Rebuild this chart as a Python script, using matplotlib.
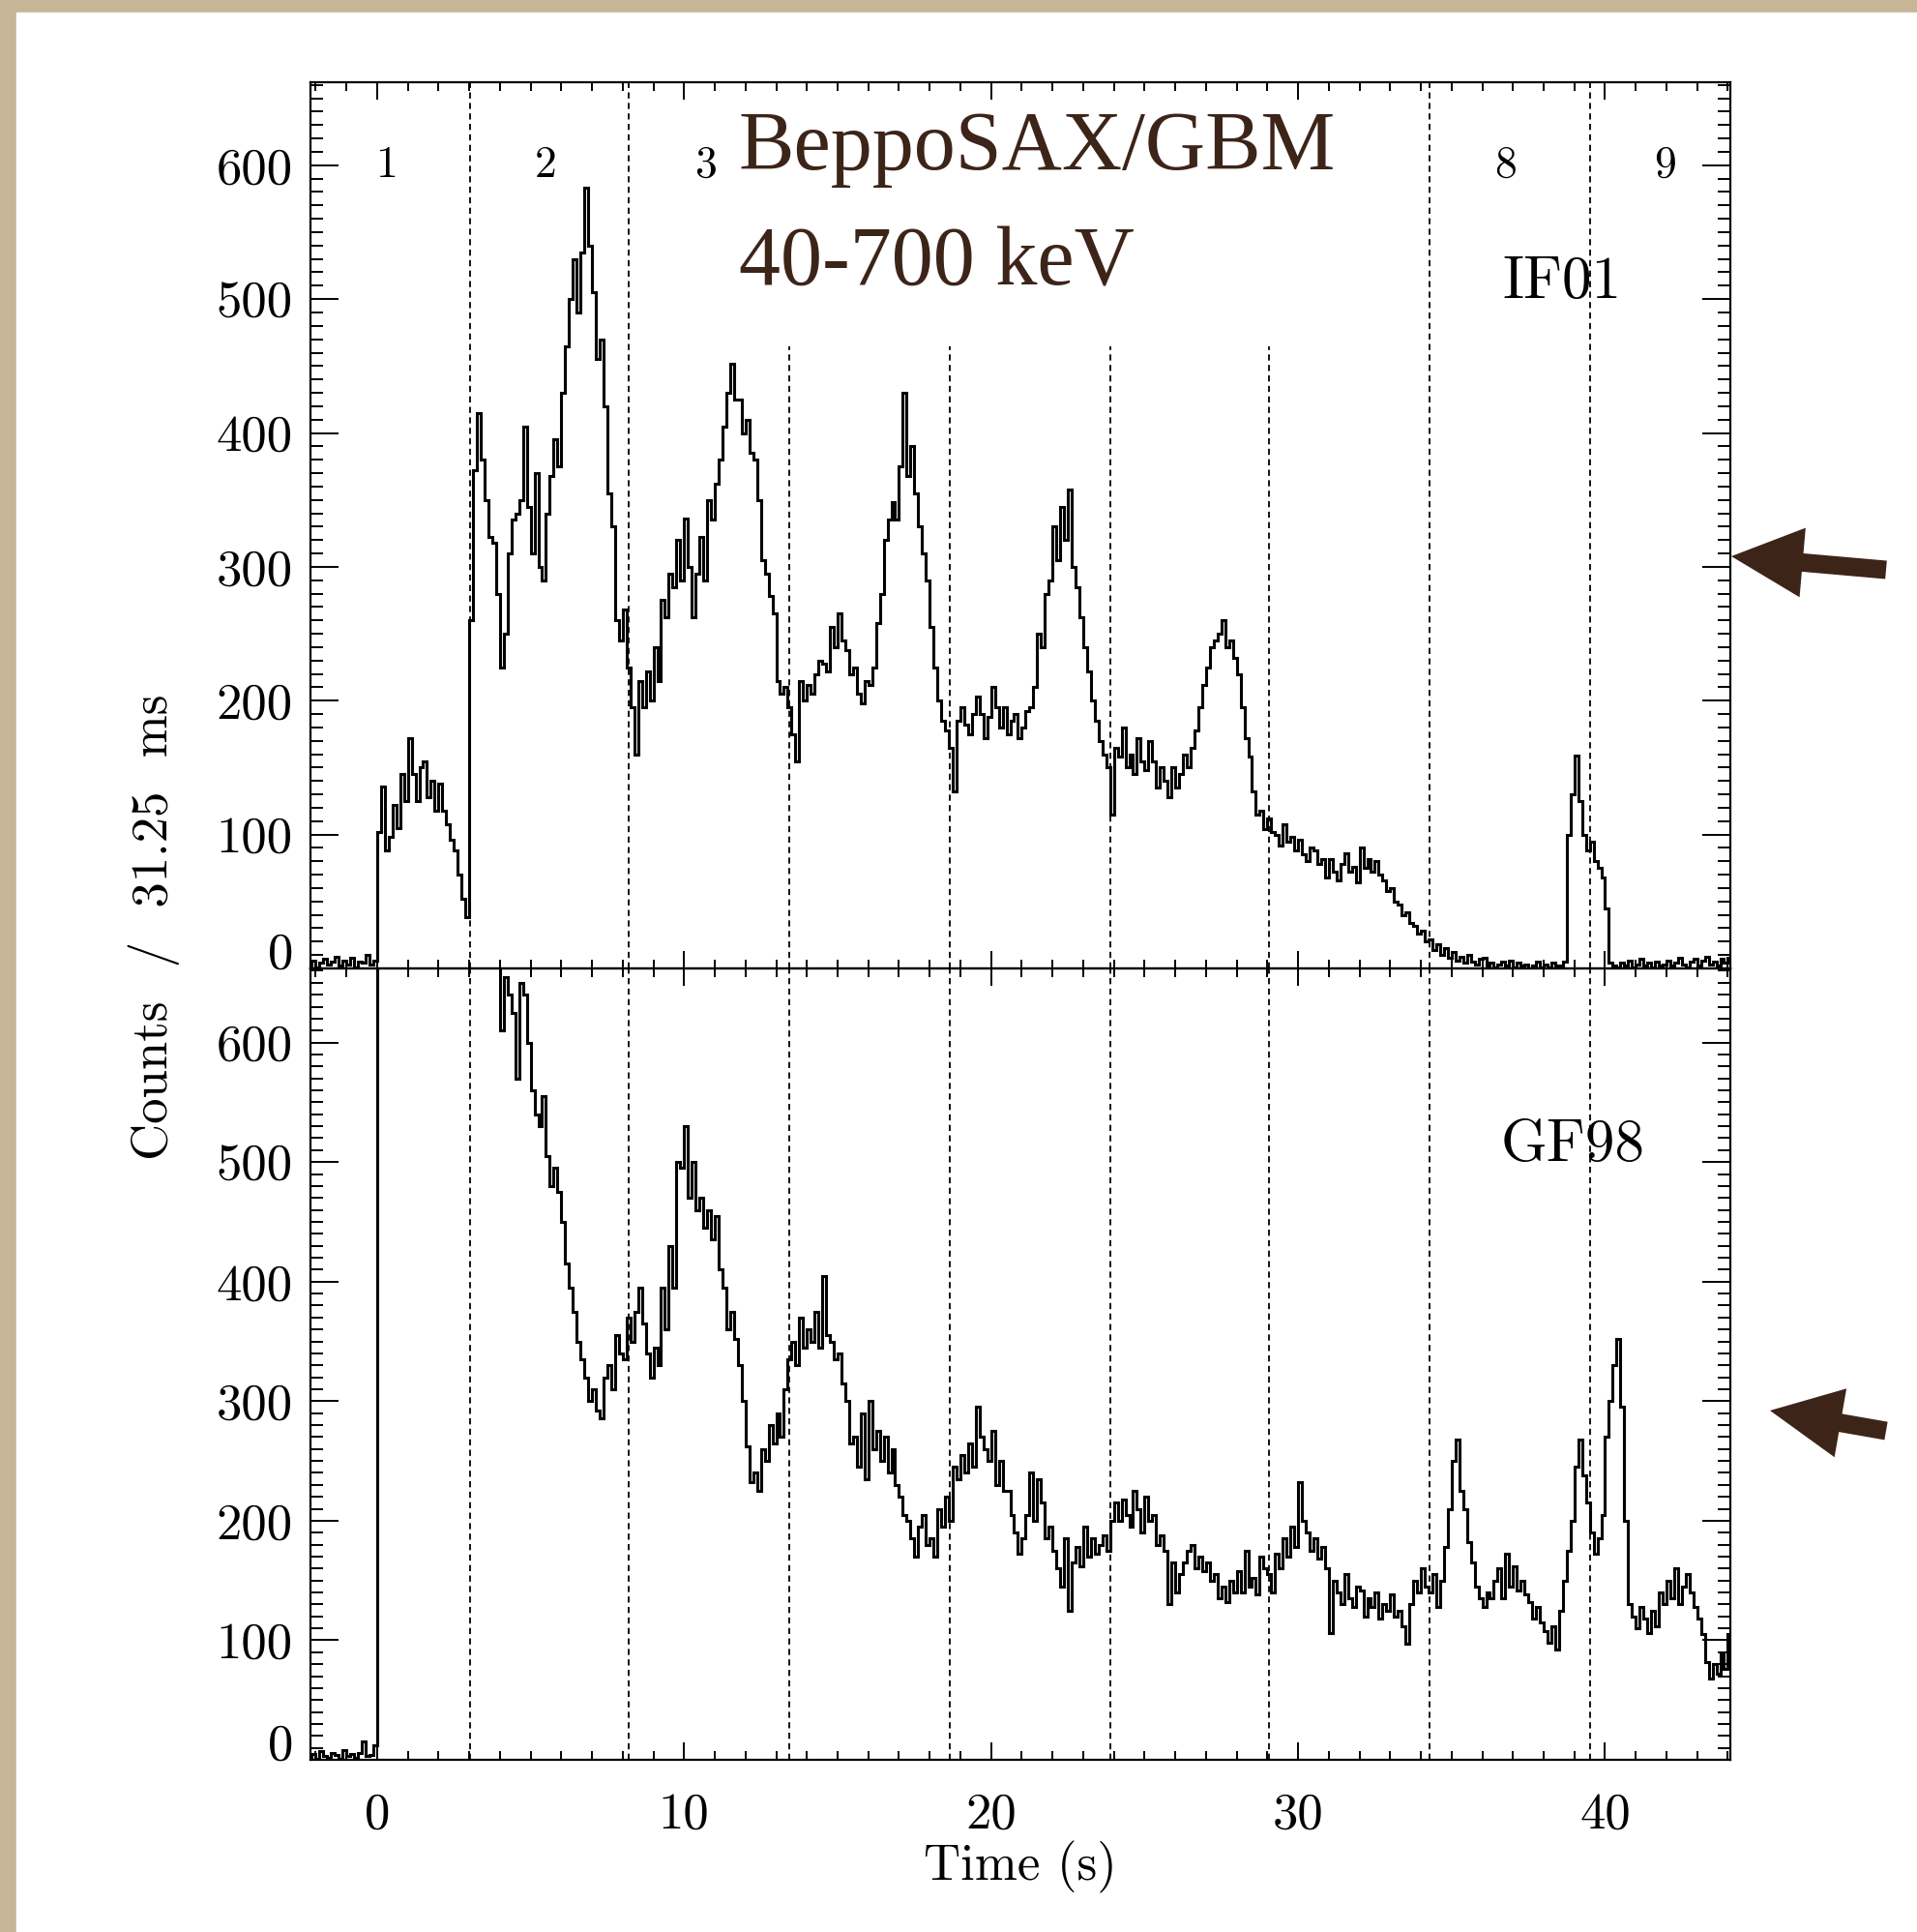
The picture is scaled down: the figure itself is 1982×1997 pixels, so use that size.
import matplotlib
matplotlib.use('Agg')
import matplotlib.pyplot as plt
import numpy as np
from matplotlib.patches import Rectangle, FancyArrow

# light curves, 0.125 s bins starting at t = -2.25 s (counts / 31.25 ms)
t_start = -2.25
bin_width = 0.125

if01 = [2, 6, 1, 4, 7, 3, 5, 9, 2, 6, 3, 8, 1, 5, 4, 10, 3, 6,
        102, 136, 88, 98, 122, 105, 145, 125,
        172, 145, 125, 150, 155, 128, 140, 118,
        138, 118, 108, 96, 88, 70, 52, 38,
        260, 372, 415, 380, 350, 322, 318, 280,
        225, 250, 310, 335, 340, 350, 405, 345,
        310, 370, 300, 290, 340, 368, 395, 375,
        430, 465, 500, 530, 490, 535, 583, 540,
        505, 455, 470, 420, 355, 330, 260, 245,
        268, 225, 195, 160, 215, 195, 222, 200,
        240, 215, 275, 262, 295, 285, 320, 290,
        336, 300, 262, 295, 322, 290, 350, 335,
        362, 380, 405, 430, 452, 425, 425, 400,
        410, 385, 380, 350, 305, 295, 278, 265,
        215, 205, 210, 195, 175, 155, 215, 200,
        212, 205, 220, 230, 228, 222, 255, 240,
        265, 245, 238, 220, 225, 205, 198, 215,
        212, 225, 258, 280, 320, 335, 348, 335,
        375, 430, 368, 390, 355, 330, 310, 290,
        255, 225, 200, 185, 178, 165, 132, 185,
        195, 182, 175, 190, 203, 190, 172, 188,
        210, 195, 180, 195, 175, 185, 190, 172,
        180, 192, 195, 210, 250, 240, 280, 290,
        330, 305, 345, 320, 358, 300, 285, 262,
        240, 222, 200, 185, 170, 160, 150, 115,
        165, 158, 180, 150, 160, 145, 172, 155,
        148, 170, 155, 135, 150, 140, 128, 150,
        135, 145, 160, 150, 165, 178, 195, 212,
        225, 240, 245, 250, 260, 240, 245, 232,
        220, 195, 172, 158, 132, 115, 118, 104,
        112, 102, 100, 92, 108, 95, 98, 88,
        96, 85, 80, 90, 88, 78, 82, 68,
        82, 72, 66, 78, 86, 72, 76, 64,
        90, 75, 82, 72, 80, 70, 66, 58,
        60, 50, 48, 40, 42, 34, 32, 26,
        28, 20, 22, 14, 18, 10, 15, 8,
        12, 6, 9, 4, 10, 5, 3, 7,
        8, 2, 4, 1, 3, 5, 2, 6,
        1, 4, 2, 3, 0, 2, 5, 1,
        3, 1, 4, 2, 2, 5, 100, 130,
        159, 125, 100, 88, 95, 80, 75, 68,
        45, 4, 2, 1, 4, 2, 6, 1,
        3, 7, 2, 4, 1, 5, 2, 3,
        6, 2, 4, 8, 3, 1, 5, 7,
        2, 6, 9, 3, 5, 2, 7, 4,
        8, 3]

# GF98: 0-4 s is off scale in the original plot
gf98 = [2, 5, 1, 7, 3, 2, 6, 4, 1, 8, 3, 5, 2, 6, 15, 3, 4, 12,
        1000, 1000, 1000, 1000, 1000, 1000, 1000, 1000,
        1000, 1000, 1000, 1000, 1000, 1000, 1000, 1000,
        1000, 1000, 1000, 1000, 1000, 1000, 1000, 1000,
        1000, 1000, 1000, 1000, 1000, 1000, 1000, 1000,
        610, 655, 640, 625, 570, 650, 640, 600,
        560, 540, 530, 555, 505, 480, 495, 475,
        450, 415, 395, 375, 350, 335, 320, 300,
        310, 292, 286, 320, 330, 310, 355, 340,
        335, 370, 350, 375, 395, 365, 340, 320,
        345, 330, 395, 360, 430, 395, 500, 495,
        530, 470, 500, 460, 470, 445, 460, 435,
        455, 410, 395, 360, 375, 352, 330, 300,
        262, 232, 240, 225, 260, 250, 280, 265,
        290, 270, 310, 335, 350, 330, 370, 345,
        360, 350, 375, 345, 405, 355, 350, 335,
        340, 315, 300, 265, 270, 245, 290, 235,
        300, 260, 275, 250, 270, 240, 260, 230,
        220, 205, 200, 185, 170, 195, 205, 180,
        185, 170, 210, 195, 220, 200, 245, 235,
        255, 240, 265, 245, 295, 270, 260, 250,
        275, 230, 250, 225, 225, 205, 190, 172,
        185, 205, 240, 200, 235, 215, 185, 195,
        175, 160, 145, 185, 125, 165, 178, 162,
        195, 170, 185, 172, 180, 188, 175, 200,
        215, 200, 218, 205, 195, 225, 210, 190,
        220, 200, 205, 180, 188, 175, 130, 165,
        140, 155, 165, 175, 180, 160, 170, 158,
        165, 150, 155, 135, 145, 132, 150, 140,
        158, 140, 175, 145, 152, 138, 170, 160,
        155, 140, 172, 160, 185, 170, 195, 178,
        232, 200, 190, 175, 185, 168, 178, 160,
        106, 150, 140, 130, 155, 135, 128, 145,
        142, 120, 135, 128, 140, 118, 130, 125,
        138, 120, 125, 112, 97, 130, 150, 140,
        160, 145, 140, 155, 128, 150, 178, 210,
        250, 268, 225, 210, 182, 165, 145, 135,
        128, 140, 135, 150, 160, 135, 172, 145,
        162, 142, 150, 138, 132, 118, 128, 115,
        108, 98, 112, 92, 125, 150, 175, 200,
        245, 268, 238, 215, 190, 172, 185, 205,
        270, 300, 330, 352, 295, 200, 130, 120,
        110, 128, 118, 106, 125, 112, 140, 130,
        150, 135, 160, 130, 145, 155, 140, 128,
        118, 105, 82, 68, 80, 72, 88, 76,
        105, 120]

interval_lines = [3.04, 8.21, 13.42, 18.67, 23.87, 29.06, 34.27, 39.52]
short_lines = [13.42, 18.67, 23.87, 29.06]   # only up to ~465 in the top panel
interval_names = ['1', '2', '3', '8', '9']
interval_name_x = [0.32, 5.5, 10.7, 36.75, 41.97]

W, H = 1983, 1997
brown = '#3d2419'
beige = '#c6b697'

plt.rcParams['font.family'] = ['cmr10', 'DejaVu Serif']
plt.rcParams['mathtext.fontset'] = 'cm'
plt.rcParams['axes.formatter.use_mathtext'] = True

fig = plt.figure(figsize=(W / 100, H / 100), dpi=100)

# page background
bg = fig.add_axes([0, 0, 1, 1], zorder=0)
bg.set_xlim(0, W)
bg.set_ylim(H, 0)
bg.axis('off')
bg.add_patch(Rectangle((0, 0), W, H, color=beige))
bg.add_patch(Rectangle((17, 13), W - 17, H - 13, color='white'))

# arrows pointing at the two panels
bg.add_patch(FancyArrow(1950, 589, 1790 - 1950, 575 - 589, width=19, head_width=72,
                        head_length=74, length_includes_head=True, color=brown, lw=0))
bg.add_patch(FancyArrow(1950, 1479, 1830 - 1950, 1458 - 1479, width=19, head_width=72,
                        head_length=74, length_includes_head=True, color=brown, lw=0))

left, right = 321, 1789
top, mid, bottom = 85, 1001, 1819
ax1 = fig.add_axes([left / W, 1 - mid / H, (right - left) / W, (mid - top) / H], zorder=1)
ax2 = fig.add_axes([left / W, 1 - bottom / H, (right - left) / W, (bottom - mid) / H], zorder=1)

edges = t_start + bin_width * np.arange(len(if01) + 1)
ax1.stairs(if01, edges, baseline=None, color='black', lw=2.2)
ax2.stairs(gf98, edges, baseline=None, color='black', lw=2.2)

dash = (0, (3.5, 2.5))
for x in interval_lines:
    ymax = 465 if x in short_lines else 662
    ax1.vlines(x, 0, ymax, colors='black', linestyles=dash, lw=1.3)
    ax2.vlines(x, 0, 662, colors='black', linestyles=dash, lw=1.3)

for name, x in zip(interval_names, interval_name_x):
    ax1.text(x, 600, name, ha='center', va='center', fontsize=33)

ax1.text(38.6, 512, 'IF01', ha='center', va='center', fontsize=44)
ax2.text(38.96, 514, 'GF98', ha='center', va='center', fontsize=44)

yt = list(range(0, 700, 100))
for ax in (ax1, ax2):
    ax.set_facecolor('none')
    ax.set_xlim(-2.17, 44.08)
    ax.set_ylim(0, 662)
    ax.set_xticks([0, 10, 20, 30, 40], ['0', '10', '20', '30', '40'])
    ax.set_xticks(np.arange(-2, 45, 1), minor=True)
    ax.set_yticks(yt, [str(v) for v in yt])
    ax.set_yticks(np.arange(0, 661, 10), minor=True)
    ax.tick_params(axis='x', which='major', direction='in', length=13, width=1.4,
                   top=True, bottom=True, pad=24, labelsize=38)
    ax.tick_params(axis='x', which='minor', direction='in', length=6.5, width=1.4,
                   top=True, bottom=True)
    ax.tick_params(axis='y', which='major', direction='in', length=21, width=1.4,
                   left=True, right=True, pad=13, labelsize=38)
    ax.tick_params(axis='y', which='minor', direction='in', length=9.5, width=1.4,
                   left=True, right=True)
    for s in ax.spines.values():
        s.set_linewidth(1.6)
    # the zero label sits a little higher in the original
    ax.yaxis.get_major_ticks()[0].label1.set_verticalalignment('baseline')

ax1.tick_params(axis='x', labelbottom=False)

fig.text(159 / W, 1 - 958 / H, 'Counts  /  31.25  ms', rotation=90, fontsize=38,
         ha='center', va='center')
fig.text(1055 / W, 1 - 1930 / H, 'Time (s)', fontsize=38, ha='center', va='center')

fig.text(764 / W, 1 - 175 / H, 'BeppoSAX/GBM', fontsize=62, family='Liberation Serif',
         color=brown, va='baseline')
fig.text(764 / W, 1 - 295 / H, '40-700 keV', fontsize=62, family='Liberation Serif',
         color=brown, va='baseline')

fig.savefig('out.png', dpi=100)
